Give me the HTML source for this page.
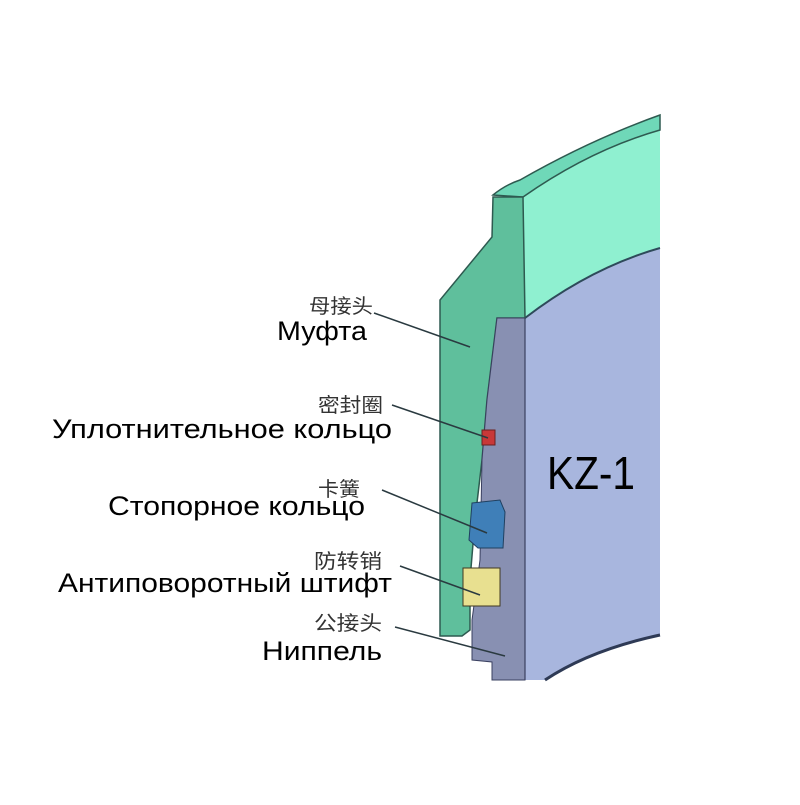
<!DOCTYPE html>
<html><head><meta charset="utf-8"><style>html,body{margin:0;padding:0;background:#fff}</style></head>
<body>
<svg width="800" height="800" viewBox="0 0 800 800" xmlns="http://www.w3.org/2000/svg">
<path d="M525,318 Q590,268 660,248 L660,635 Q590,650 545,680 L525,680 Z" fill="#a8b6de"/>
<path d="M523,197 Q590,150 660,130 L660,248 Q590,268 525,318 Z" fill="#8ff0d0"/>
<path d="M525,318 Q590,268 660,248" fill="none" stroke="#2e4a5a" stroke-width="2"/>
<path d="M493,195 Q505,185 520,180 Q590,140 660,115 L660,130 Q590,150 523,197 Z" fill="#6fd8b8" stroke="#2e5a50" stroke-width="1.5"/>
<path d="M493,197 L523,197 L525,318 L497,318 L487,400 L482,460 L475,520 L470,580 L470,630 L462,636 L440,636 L440,300 L492,237 Z" fill="#5fbf9c" stroke="#2e5a50" stroke-width="1.5"/>
<path d="M497,318 L525,318 L525,680 L492,680 L492,662 L472,660 L472,620 L480,560 L482,460 L487,400 Z" fill="#8890b2" stroke="#3a4060" stroke-width="1"/>
<line x1="525" y1="318" x2="525" y2="680" stroke="#3a4060" stroke-width="1.2"/>
<path d="M545,680 Q590,650 660,635" fill="none" stroke="#2e3a55" stroke-width="3"/>
<rect x="482" y="430" width="13" height="15" fill="#c83838" stroke="#6a2020"/>
<path d="M472,503 L500,500 L505,512 L503,548 L478,548 L469,540 Z" fill="#3f7fb8" stroke="#204060"/>
<rect x="463" y="568" width="37" height="38" fill="#e8e090" stroke="#403820"/>
<g stroke="#2a3a40" stroke-width="1.5" fill="none">
<line x1="374" y1="313" x2="470" y2="347"/>
<line x1="392" y1="405" x2="488" y2="438"/>
<line x1="382" y1="490" x2="487" y2="533"/>
<line x1="400" y1="566" x2="480" y2="595"/>
<line x1="395" y1="627" x2="505" y2="656"/>
</g>
<g font-family="'Liberation Sans','Noto Sans CJK SC',sans-serif" fill="#000">
<text x="309" y="313" font-size="20" textLength="64" lengthAdjust="spacingAndGlyphs" fill="#333">母接头</text>
<text x="277" y="340" font-size="27" textLength="90" lengthAdjust="spacingAndGlyphs">Муфта</text>
<text x="318" y="412" font-size="20" textLength="65" lengthAdjust="spacingAndGlyphs" fill="#333">密封圈</text>
<text x="52" y="438" font-size="27" textLength="340" lengthAdjust="spacingAndGlyphs">Уплотнительное кольцо</text>
<text x="318" y="496" font-size="20" textLength="42" lengthAdjust="spacingAndGlyphs" fill="#333">卡簧</text>
<text x="108" y="515" font-size="27" textLength="257" lengthAdjust="spacingAndGlyphs">Стопорное кольцо</text>
<text x="314" y="568" font-size="20" textLength="68" lengthAdjust="spacingAndGlyphs" fill="#333">防转销</text>
<text x="58" y="592" font-size="27" textLength="334" lengthAdjust="spacingAndGlyphs">Антиповоротный штифт</text>
<text x="314" y="630" font-size="20" textLength="68" lengthAdjust="spacingAndGlyphs" fill="#333">公接头</text>
<text x="262" y="660" font-size="27" textLength="120" lengthAdjust="spacingAndGlyphs">Ниппель</text>
<text x="547" y="489" font-size="46" textLength="88" lengthAdjust="spacingAndGlyphs">KZ-1</text>
</g>
</svg>
</body></html>
